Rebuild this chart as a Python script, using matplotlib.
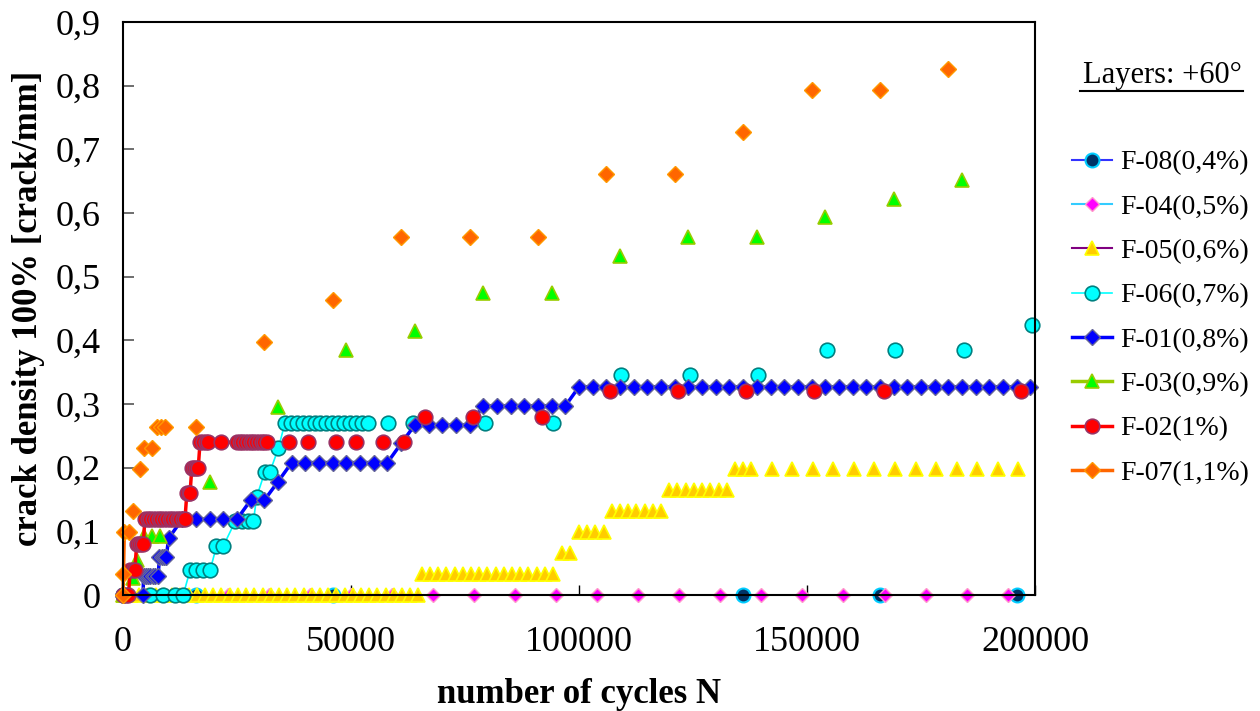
import matplotlib
matplotlib.use("Agg")
import matplotlib.pyplot as plt
from matplotlib.lines import Line2D

plt.rcParams['font.family'] = ['Liberation Serif', 'DejaVu Serif']

# ---- data (cycles N, crack density) ----
f08_n = [0, 16000, 46000, 136000, 166000, 196000]
f08_y = [0, 0, 0, 0, 0, 0]

f04_n = [5000, 14000, 23000, 32000, 41000, 50000, 59000, 68000, 77000, 86000, 95000,
         104000, 113000, 122000, 131000, 140000, 149000, 158000, 167000, 176000, 185000, 194000]
f04_y = [0] * len(f04_n)

f05_n = [0, 1800, 3600, 5400, 7200, 9000, 10800, 12600, 14400, 16200, 18000, 19800, 21600,
         23400, 25200, 27000, 28800, 30600, 32400, 34200, 36000, 37800, 39600, 41400, 43200,
         45000, 46800, 48600, 50400, 52200, 54000, 55800, 57600, 59400, 61200, 63000, 64800,
         65500, 67300, 69100, 70900, 72700, 74500, 76300, 78100, 79900, 81700, 83500, 85300,
         87100, 88900, 90700, 92500, 94300,
         96200, 98000,
         100000, 101800, 103600, 105400,
         107200, 109000, 110800, 112600, 114400, 116200, 118000,
         119800, 121600, 123400, 125200, 127000, 128800, 130600, 132400,
         134200, 136000, 137800, 142300, 146800, 151300, 155800, 160300, 164800, 169300,
         173800, 178300, 182800, 187300, 191800, 196300]
f05_y = ([0] * 37 + [0.033] * 17 + [0.066] * 2 + [0.099] * 4 + [0.132] * 7
         + [0.165] * 8 + [0.198] * 16)

f06_n = [0, 5900, 8800, 11400, 13200, 14700, 16100, 17600, 19100, 20500, 22000, 24600, 26000,
         27500, 28600, 29300, 31100, 32200, 34100, 35500, 36800, 38100, 39400, 40700, 42000,
         43300, 44600, 45900, 47200, 48500, 49800, 51100, 52400, 53700]
f06_y = ([0] * 5 + [0.0385] * 4 + [0.077] * 2 + [0.1155] * 4 + [0.154] + [0.193] * 2
         + [0.231] + [0.27] * 15)
f06_late_n = [58200, 63700, 79300, 94200, 109200, 124300, 139300, 154300, 169400, 184400, 199400]
f06_late_y = [0.27, 0.27, 0.27, 0.27, 0.346, 0.346, 0.346, 0.385, 0.385, 0.385, 0.424]

f01_n = [0, 4400, 4500, 5000, 5500, 6000, 6500, 7000, 7700, 8000, 8500, 9000, 9500, 10000,
         13000, 16000, 19000, 22000, 25000, 28000, 31000, 34000, 37000, 40000, 43000, 46000,
         49000, 52000, 55000, 58000, 61000, 64000, 67000, 70000, 73000, 76000, 79000, 82000,
         85000, 88000, 91000, 94000, 97000, 100000, 103000, 106000, 109000, 112000, 115000,
         118000, 121000, 124000, 127000, 130000, 133000, 136000, 139000, 142000, 145000,
         148000, 151000, 154000, 157000, 160000, 163000, 166000, 169000, 172000, 175000,
         178000, 181000, 184000, 187000, 190000, 193000, 196000, 199000]
f01_y = ([0, 0] + [0.0297] * 7 + [0.0594] * 4 + [0.089] + [0.119] * 5 + [0.149] * 2
         + [0.178] + [0.208] * 8 + [0.238] + [0.267] * 5 + [0.297] * 7 + [0.327] * 34)

f03_n = [0, 2300, 3000, 4500, 6300, 8100, 19100, 34000, 49000, 64000, 79000, 94000, 109000,
         124000, 139000, 154000, 169000, 184000]
f03_y = [0, 0.026, 0.055, 0.092, 0.092, 0.092, 0.178, 0.296, 0.385, 0.415, 0.474, 0.474,
         0.532, 0.563, 0.563, 0.593, 0.622, 0.652]

f02_n = [0, 600, 1200, 1600, 2100, 2600, 3000, 3500, 4000, 4450,
         4800, 5400, 6000, 6600, 7200, 7800, 8400, 9000, 9600, 10200, 10800, 11400, 12000,
         12600, 13100, 13600, 14000, 14400, 14700, 15100, 15600, 16100, 16500,
         16900, 17500, 18100, 18700, 21600, 25000, 25600, 26200, 26800, 27400, 28000, 28600,
         29200, 29800, 30400, 31000, 31500]
f02_y = ([0] * 3 + [0.04] * 3 + [0.08] * 4 + [0.12] * 16 + [0.16] * 3 + [0.20] * 4
         + [0.24] * 17)
f02_late_n = [36300, 40600, 46700, 51100, 57100, 61600, 66200, 76700, 91800, 106700,
              121700, 136700, 151600, 166800, 196900]
f02_late_y = [0.24] * 6 + [0.28] * 3 + [0.32] * 6

f07_n = [0, 100, 300]
f07_y = [0, 0.033, 0.099]
f07_late_n = [1300, 2100, 3700, 4500, 6300, 7400, 8300, 9200, 16000, 31000, 46000, 61000,
              76000, 91000, 106000, 121000, 136000, 151000, 166000, 181000]
f07_late_y = [0.099, 0.132, 0.198, 0.231, 0.231, 0.264, 0.264, 0.264, 0.264, 0.397, 0.463,
              0.562, 0.562, 0.562, 0.661, 0.661, 0.727, 0.793, 0.793, 0.826]

labels = ['F-08(0,4%)', 'F-04(0,5%)', 'F-05(0,6%)', 'F-06(0,7%)',
          'F-01(0,8%)', 'F-03(0,9%)', 'F-02(1%)', 'F-07(1,1%)']
x_ticks = [0, 50000, 100000, 150000, 200000]
y_ticks = [0, 0.1, 0.2, 0.3, 0.4, 0.5, 0.6, 0.7, 0.8, 0.9]

# ---- styles ----
styles = [
    dict(color='#3333FF', marker='o', ms=10, mfc='#003366', mec='#00CCFF', mew=1.5, lw=1.5),
    dict(color='#33CCFF', marker='D', ms=7.5, mfc='#FF00FF', mec='#FF99CC', mew=1.0, lw=1.5),
    dict(color='#800080', marker='^', ms=10.5, mfc='#FFCC00', mec='#FFFF00', mew=1.2, lw=1.5),
    dict(color='#00FFFF', marker='o', ms=10.5, mfc='#00FFFF', mec='#008080', mew=1.2, lw=1.2),
    dict(color='#0000FF', marker='D', ms=8, mfc='#0000FF', mec='#666699', mew=1.0, lw=2.5),
    dict(color='#99CC00', marker='^', ms=10.5, mfc='#00FF00', mec='#99CC00', mew=1.2, lw=2.5),
    dict(color='#FF0000', marker='o', ms=10.5, mfc='#FF0000', mec='#993366', mew=1.2, lw=2.5),
    dict(color='#FF6600', marker='D', ms=8, mfc='#FF6600', mec='#FF9900', mew=1.0, lw=2.5),
]

fig = plt.figure(figsize=(12.6, 7.11), dpi=100)
ax = fig.add_axes([123 / 1260, 1 - 595 / 711, 912 / 1260, 573 / 711])


def pts(n, y, st, line):
    kw = dict(st)
    if not line:
        kw['linestyle'] = 'none'
    ax.plot(n, y, clip_on=False, **kw)


pts(f08_n, f08_y, styles[0], False)
pts(f04_n, f04_y, styles[1], False)
pts(f05_n, f05_y, styles[2], False)
pts(f06_n, f06_y, styles[3], True)
pts(f06_late_n, f06_late_y, styles[3], False)
pts(f01_n, f01_y, styles[4], True)
pts(f03_n, f03_y, styles[5], False)
pts(f02_n, f02_y, styles[6], True)
pts(f02_late_n, f02_late_y, styles[6], False)
pts(f07_n, f07_y, styles[7], True)
pts(f07_late_n, f07_late_y, styles[7], False)

ax.set_xlim(0, 200000)
ax.set_ylim(0, 0.9)
ax.set_xticks(x_ticks)
ax.set_xticklabels([str(v) for v in x_ticks])
ax.set_yticks(y_ticks)
ax.set_yticklabels(['0' if v == 0 else ('%.1f' % v).replace('.', ',') for v in y_ticks])
ax.tick_params(axis='x', direction='in', length=7, width=1, pad=22, labelsize=26)
ax.tick_params(axis='y', direction='in', length=8, width=1.2, color='#555555', pad=16, labelsize=26)
for sp in ax.spines.values():
    sp.set_linewidth(1.5)
    sp.set_color('black')

ax.set_xlabel('number of cycles N', fontsize=25, fontweight='bold', labelpad=14)
ax.set_ylabel('crack density 100% [crack/mm]', fontsize=25, fontweight='bold', labelpad=8)

handles = [Line2D([], [], **st) for st in styles]
ax.legend(handles, labels, loc='upper left', bbox_to_anchor=(1072 / 1260, 1 - 150 / 711),
          bbox_transform=fig.transFigure, frameon=False, fontsize=20, numpoints=1,
          handlelength=1.45, handletextpad=0.3, labelspacing=0.68, borderpad=0,
          borderaxespad=0)

fig.text(1162 / 1260, 1 - 75 / 711, 'Layers: +60°', ha='center', va='center', fontsize=22)
fig.add_artist(Line2D([1080 / 1260, 1243 / 1260], [1 - 91 / 711, 1 - 91 / 711],
                      color='black', lw=1.5, transform=fig.transFigure))

fig.savefig('out.png', dpi=100)
